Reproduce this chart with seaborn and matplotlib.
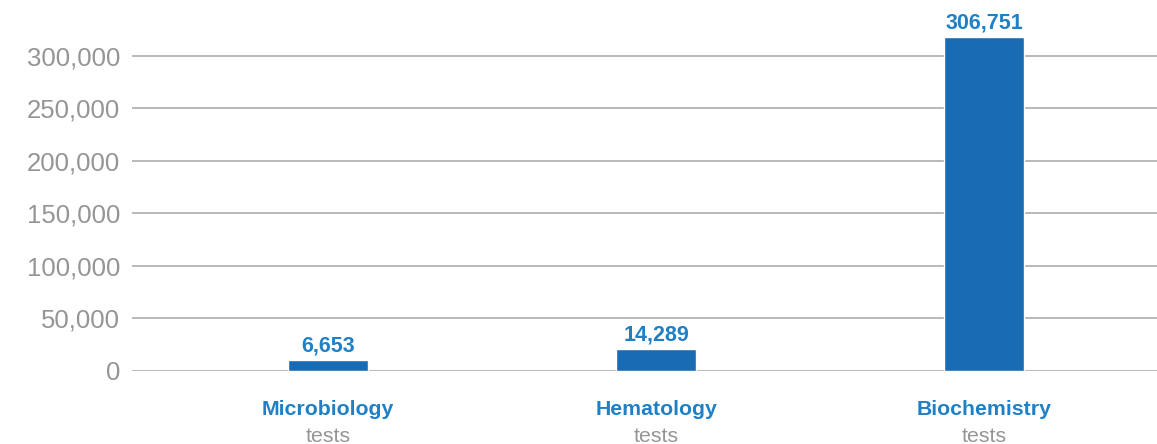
import pandas as pd
import matplotlib
matplotlib.use('Agg')
import matplotlib.pyplot as plt
import matplotlib.transforms as mtransforms
import seaborn as sns

# Data
categories = ['Microbiology', 'Hematology', 'Biochemistry']
sublabels = ['tests', 'tests', 'tests']
counts = [6653, 14289, 306751]            # printed values above bars
bar_heights = [10200, 21000, 317500]      # bar heights as drawn in the picture
yticks = [0, 50000, 100000, 150000, 200000, 250000, 300000]

df = pd.DataFrame({'category': categories, 'height': bar_heights})

bar_color = '#196cb4'
label_blue = '#1f80c6'
grey_text = '#959595'
grid_color = '#b3b3b3'

sns.set_theme(style='white')
plt.rcParams['font.family'] = ['Liberation Sans', 'DejaVu Sans']

W, H = 1157, 444
fig = plt.figure(figsize=(W / 100, H / 100), dpi=100)
# axes spans from gridline start to right edge, zero line at y=371 px
ax_left, ax_right = 132 / W, 1.0
ax_bottom = 1 - 370.7 / H
ax = fig.add_axes([ax_left, ax_bottom, ax_right - ax_left, 1 - ax_bottom])

sns.barplot(data=df, x='category', y='height', color=bar_color,
            width=80 / 328, saturation=1, ax=ax)

ax.set_xlim(-0.598, 2.527)
ax.set_ylim(0, 370.7 / 1.05 * 1000)
ax.set_yticks(yticks)
ax.set_yticklabels([f'{v:,}' for v in yticks], fontsize=18.5, color=grey_text)
ax.tick_params(axis='y', length=0, pad=8.5)
ax.set_xticks([])
ax.set_xlabel('')
ax.set_ylabel('')
for s in ax.spines.values():
    s.set_visible(False)
ax.yaxis.grid(True, color=grid_color, linewidth=1.3)
ax.set_axisbelow(True)

# value labels above bars
for i, (h, c) in enumerate(zip(bar_heights, counts)):
    ax.annotate(f'{c:,}', (i, h), xytext=(0, 2.5), textcoords='offset points',
                ha='center', va='bottom', fontsize=15.5, fontweight='bold',
                color=label_blue)

# category labels below the axis
trans = mtransforms.blended_transform_factory(ax.transData, fig.transFigure)
for i, (cat, sub) in enumerate(zip(categories, sublabels)):
    ax.text(i, 1 - 415 / H, cat, transform=trans, ha='center', va='baseline',
            fontsize=15.3, fontweight='bold', color=label_blue, clip_on=False)
    ax.text(i, 1 - 442 / H, sub, transform=trans, ha='center', va='baseline',
            fontsize=15.3, color=grey_text, clip_on=False)

fig.savefig('out.png', dpi=100)
plt.close(fig)
